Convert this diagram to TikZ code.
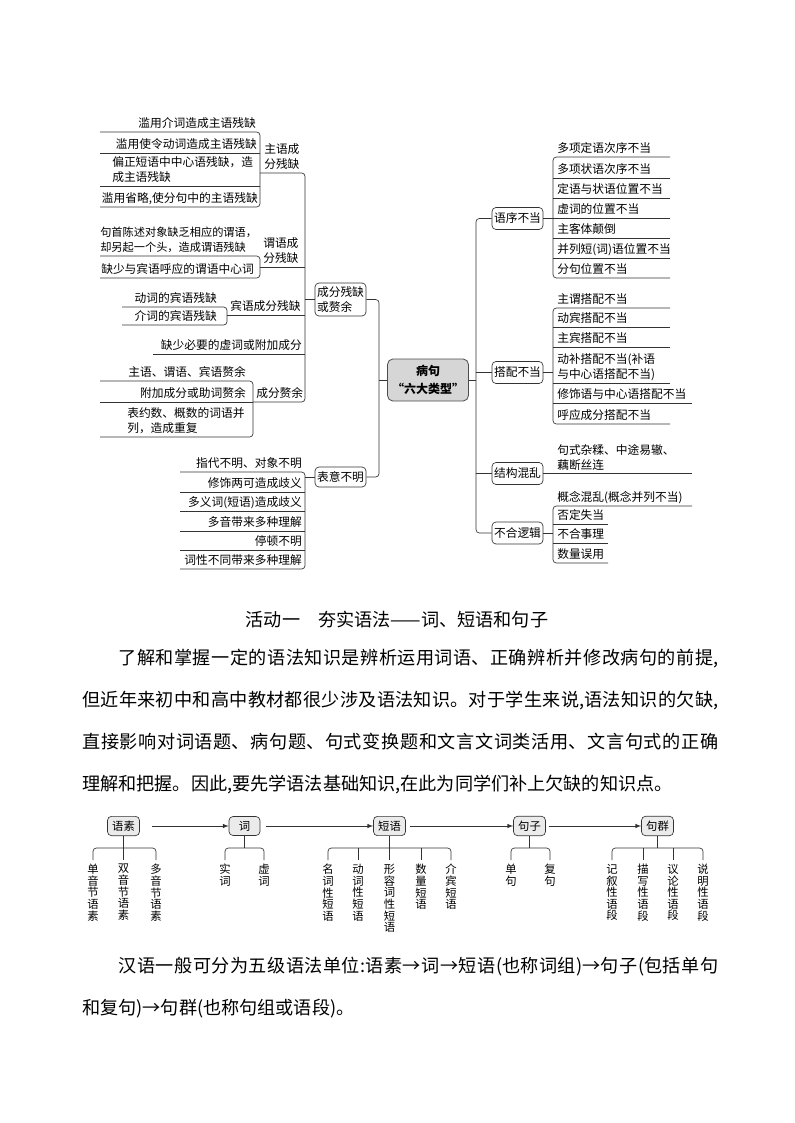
\documentclass[tikz,border=0pt]{standalone}
\usepackage{fontspec}
\setmainfont{Noto Sans CJK SC}
\XeTeXlinebreaklocale "zh"
\XeTeXlinebreakskip=0pt plus 1pt
\newcommand\mapfont{\fontsize{8.8pt}{11.6pt}\selectfont}
\newcommand\hubfont{\fontsize{9pt}{13pt}\selectfont\bfseries}
\newcommand\unitfont{\fontsize{8.5pt}{10pt}\selectfont}
\newcommand\vfont{\fontsize{8.5pt}{8.7pt}\selectfont}
\newcommand\bodyfont{\fontsize{13.6pt}{31.5pt}\selectfont}
\tikzset{
  link/.style={draw=black!80,line width=0.5pt,rounded corners=2.5pt},
  flow/.style={->,draw=black!80,line width=0.5pt},
  leaf/.style={inner sep=0pt,font=\mapfont,align=left},
  branch/.style={draw=black!80,line width=0.5pt,fill=white,rounded corners=3pt,inner sep=1.5pt,
    font=\mapfont,align=left,minimum width=38.25pt,minimum height=16.5pt},
  hub/.style={draw=black!70,line width=0.6pt,fill=black!16,rounded corners=4pt,align=center,
    minimum width=58.5pt,minimum height=31.5pt,font=\hubfont},
  unit/.style={draw=black!80,line width=0.5pt,fill=black!8,rounded corners=3pt,inner xsep=3.5pt,
    minimum width=23.25pt,minimum height=12.75pt,font=\unitfont},
  vtext/.style={inner sep=0pt,anchor=north,align=center,font=\vfont},
  para/.style={inner sep=0pt,text width=477pt,align=justify,font=\bodyfont}
}
\begin{document}
\begin{tikzpicture}[x=0.75pt,y=-0.75pt,>=latex]
\useasboundingbox (0,0) rectangle (794,1123);
% left side brackets
\draw[link] (260,173) -- (305,173) -- (305,402) -- (253,402);
\draw[link] (260,267) -- (305,267);
\draw[link] (227,315) -- (305,315);
\draw[link] (153,354) -- (305,354);
\draw[link] (100,132) -- (260,132) -- (260,207) -- (100,207);
\draw[link] (100,153) -- (260,153);
\draw[link] (100,186) -- (260,186);
\draw[link] (100,256) -- (260,256) -- (260,278) -- (100,278);
\draw[link] (122,307) -- (227,307) -- (227,325) -- (122,325);
\draw[link] (100,381) -- (253,381) -- (253,437) -- (100,437);
\draw[link] (100,402) -- (253,402);
\draw[link] (180,472) -- (305,472) -- (305,569) -- (180,569);
\foreach \y in {492,511,531,550} \draw[link] (180,\y) -- (305,\y);
% right side brackets
\draw[link] (670,157) -- (553,157) -- (553,278) -- (670,278);
\foreach \y in {178,198,218.5,238,258} \draw[link] (553,\y) -- (670,\y);
\draw[link] (670,308) -- (553,308) -- (553,424) -- (670,424);
\foreach \y in {327,347,383} \draw[link] (553,\y) -- (670,\y);
\draw[link] (553,403) -- (692,403);
\draw[link] (692,506) -- (553,506) -- (553,563) -- (608,563);
\foreach \y in {524,543} \draw[link] (553,\y) -- (608,\y);
% boxes
\node[branch,minimum height=24.75pt] (cfcq) at (340.5,299.5) {成分残缺\\或赘余};
\node[branch,minimum height=15pt] (byfm) at (340.5,477) {表意不明};
\node[hub] (bingju) at (428,380) {病句\\“六大类型”};
\node[branch] (yxbd) at (517.5,218.5) {语序不当};
\node[branch] (dpbd) at (517.5,372.5) {搭配不当};
\node[branch] (jghl) at (517.5,473.5) {结构混乱};
\node[branch] (bhlj) at (517.5,533) {不合逻辑};
\draw[link] (cfcq.west) -- (305,299.5);
\draw[link] (byfm.west) -- (305,477);
\draw[link] (cfcq.east) -- (379,299.5) -- (379,477) -- (byfm.east);
\draw[link] (bingju.west) -- (379,380);
\draw[link] (yxbd.west) -- (476,218.5) -- (476,533) -- (bhlj.west);
\draw[link] (bingju.east) -- (476,380);
\draw[link] (dpbd.west) -- (476,372.5);
\draw[link] (jghl.west) -- (476,473.5);
\draw[link] (yxbd.east) -- (553,218.5);
\draw[link] (dpbd.east) -- (553,372.5);
\draw[link] (jghl.east) -- (692,473.5);
\draw[link] (bhlj.east) -- (553,533);
% left leaves
\node[leaf,anchor=base east] (zy1) at (256,127.5) {滥用介词造成主语残缺};
\node[leaf,anchor=base east] (zy2) at (257,148.5) {滥用使令动词造成主语残缺};
\node[leaf,anchor=base west] (zy3) at (112,181.5) {偏正短语中中心语残缺，造\\成主语残缺};
\node[leaf,anchor=base east] (zy4) at (258,202.5) {滥用省略,使分句中的主语残缺};
\node[leaf,anchor=base west] (zy) at (264,168.5) {主语成\\分残缺};
\node[leaf,anchor=base west,font=\fontsize{8.4pt}{11.6pt}\selectfont] (wy1) at (100,251.5) {句首陈述对象缺乏相应的谓语，\\却另起一个头，造成谓语残缺};
\node[leaf,anchor=base west] (wy2) at (101,273.5) {缺少与宾语呼应的谓语中心词};
\node[leaf,anchor=base west] (wy) at (263,262.5) {谓语成\\分残缺};
\node[leaf,anchor=base east] (by1) at (217,302.5) {动词的宾语残缺};
\node[leaf,anchor=base east] (by2) at (217,320.5) {介词的宾语残缺};
\node[leaf,anchor=base west] (by) at (230,310.5) {宾语成分残缺};
\node[leaf,anchor=base east] (xc) at (302,349.5) {缺少必要的虚词或附加成分};
\node[leaf,anchor=base east] (zyu1) at (246,376.5) {主语、谓语、宾语赘余};
\node[leaf,anchor=base east] (zyu2) at (246,397.5) {附加成分或助词赘余};
\node[leaf,anchor=base west] (zyu3) at (127,432.5) {表约数、概数的词语并\\列，造成重复};
\node[leaf,anchor=base west] (zyu) at (256,397.5) {成分赘余};
\node[leaf,anchor=base east] (bm1) at (302,467.5) {指代不明、对象不明};
\node[leaf,anchor=base east] (bm2) at (302,487.5) {修饰两可造成歧义};
\node[leaf,anchor=base east] (bm3) at (302,506.5) {多义词(短语)造成歧义};
\node[leaf,anchor=base east] (bm4) at (302,526.5) {多音带来多种理解};
\node[leaf,anchor=base east] (bm5) at (302,545.5) {停顿不明};
\node[leaf,anchor=base east] (bm6) at (302,564.5) {词性不同带来多种理解};
% right leaves
\node[leaf,anchor=base west] (yx1) at (557,152.5) {多项定语次序不当};
\node[leaf,anchor=base west] (yx2) at (557,173.5) {多项状语次序不当};
\node[leaf,anchor=base west] (yx3) at (557,193.5) {定语与状语位置不当};
\node[leaf,anchor=base west] (yx4) at (557,213.5) {虚词的位置不当};
\node[leaf,anchor=base west] (yx5) at (557,233.5) {主客体颠倒};
\node[leaf,anchor=base west] (yx6) at (557,253.5) {并列短(词)语位置不当};
\node[leaf,anchor=base west] (yx7) at (557,273.5) {分句位置不当};
\node[leaf,anchor=base west] (dp1) at (557,303.5) {主谓搭配不当};
\node[leaf,anchor=base west] (dp2) at (557,322.5) {动宾搭配不当};
\node[leaf,anchor=base west] (dp3) at (557,342.5) {主宾搭配不当};
\node[leaf,anchor=base west] (dp4) at (557,378.5) {动补搭配不当(补语\\与中心语搭配不当)};
\node[leaf,anchor=base west] (dp5) at (557,398.5) {修饰语与中心语搭配不当};
\node[leaf,anchor=base west] (dp6) at (557,419.5) {呼应成分搭配不当};
\node[leaf,anchor=base west] (jg1) at (557,469.5) {句式杂糅、中途易辙、\\藕断丝连};
\node[leaf,anchor=base west] (lj1) at (557,501.5) {概念混乱(概念并列不当)};
\node[leaf,anchor=base west] (lj2) at (557,519.5) {否定失当};
\node[leaf,anchor=base west] (lj3) at (557,538.5) {不合事理};
\node[leaf,anchor=base west] (lj4) at (557,558.5) {数量误用};
% text
\node[anchor=base,inner sep=0pt,font=\bodyfont] (title) at (397,626) {活动一　夯实语法——词、短语和句子};
\node[para,anchor=base west] (intro) at (82,664) {\hspace*{2em}了解和掌握一定的语法知识是辨析运用词语、正确辨析并修改病句的前提,\linebreak
但近年来初中和高中教材都很少涉及语法知识。对于学生来说,语法知识的欠缺,\linebreak
直接影响对词语题、病句题、句式变换题和文言文词类活用、文言句式的正确\linebreak
理解和把握。因此,要先学语法基础知识,在此为同学们补上欠缺的知识点。};
% units
\node[unit] (yusu) at (123.5,826) {语素};
\node[unit] (ci) at (244.5,826) {词};
\node[unit] (duanyu) at (389.5,826) {短语};
\node[unit] (juzi) at (529.5,826) {句子};
\node[unit] (juqun) at (657.5,826) {句群};
\draw[flow,shorten <=9pt] (yusu.east) -- (ci.west);
\draw[flow,shorten <=4pt] (ci.east) -- (duanyu.west);
\draw[flow,shorten <=3pt] (duanyu.east) -- (juzi.west);
\draw[flow,shorten <=2pt] (juzi.east) -- (juqun.west);
\draw[link] (yusu.south) -- (123.5,860);
\draw[link] (93,860) -- (93,848) -- (156,848) -- (156,860);
\draw[link] (ci.south) -- (244.5,848);
\draw[link] (225,860) -- (225,848) -- (264,848) -- (264,860);
\draw[link] (duanyu.south) -- (389.5,860);
\draw[link] (328,860) -- (328,848) -- (451,848) -- (451,860);
\draw[link] (358,848) -- (358,860);
\draw[link] (421,848) -- (421,860);
\draw[link] (juzi.south) -- (529.5,848);
\draw[link] (511,860) -- (511,848) -- (550,848) -- (550,860);
\draw[link] (juqun.south) -- (657.5,848);
\draw[link] (612,860) -- (612,848) -- (703,848) -- (703,860);
\draw[link] (643,848) -- (643,860);
\draw[link] (673,848) -- (673,860);
\node[vtext] (ys1) at (93,864) {单\\音\\节\\语\\素};
\node[vtext] (ys2) at (123.5,864) {双\\音\\节\\语\\素};
\node[vtext] (ys3) at (156,864) {多\\音\\节\\语\\素};
\node[vtext] (ci1) at (225,864) {实\\词};
\node[vtext] (ci2) at (264,864) {虚\\词};
\node[vtext] (dy1) at (328,864) {名\\词\\性\\短\\语};
\node[vtext] (dy2) at (358,864) {动\\词\\性\\短\\语};
\node[vtext] (dy3) at (389.5,864) {形\\容\\词\\性\\短\\语};
\node[vtext] (dy4) at (421,864) {数\\量\\短\\语};
\node[vtext] (dy5) at (451,864) {介\\宾\\短\\语};
\node[vtext] (jz1) at (511,864) {单\\句};
\node[vtext] (jz2) at (550,864) {复\\句};
\node[vtext] (jq1) at (612,864) {记\\叙\\性\\语\\段};
\node[vtext] (jq2) at (643,864) {描\\写\\性\\语\\段};
\node[vtext] (jq3) at (673,864) {议\\论\\性\\语\\段};
\node[vtext] (jq4) at (703,864) {说\\明\\性\\语\\段};
\node[para,anchor=base west] (units) at (82,972) {\hspace*{2em}汉语一般可分为五级语法单位:语素→词→短语(也称词组)→句子(包括单句\linebreak
和复句)→句群(也称句组或语段)。};
\end{tikzpicture}
\end{document}
